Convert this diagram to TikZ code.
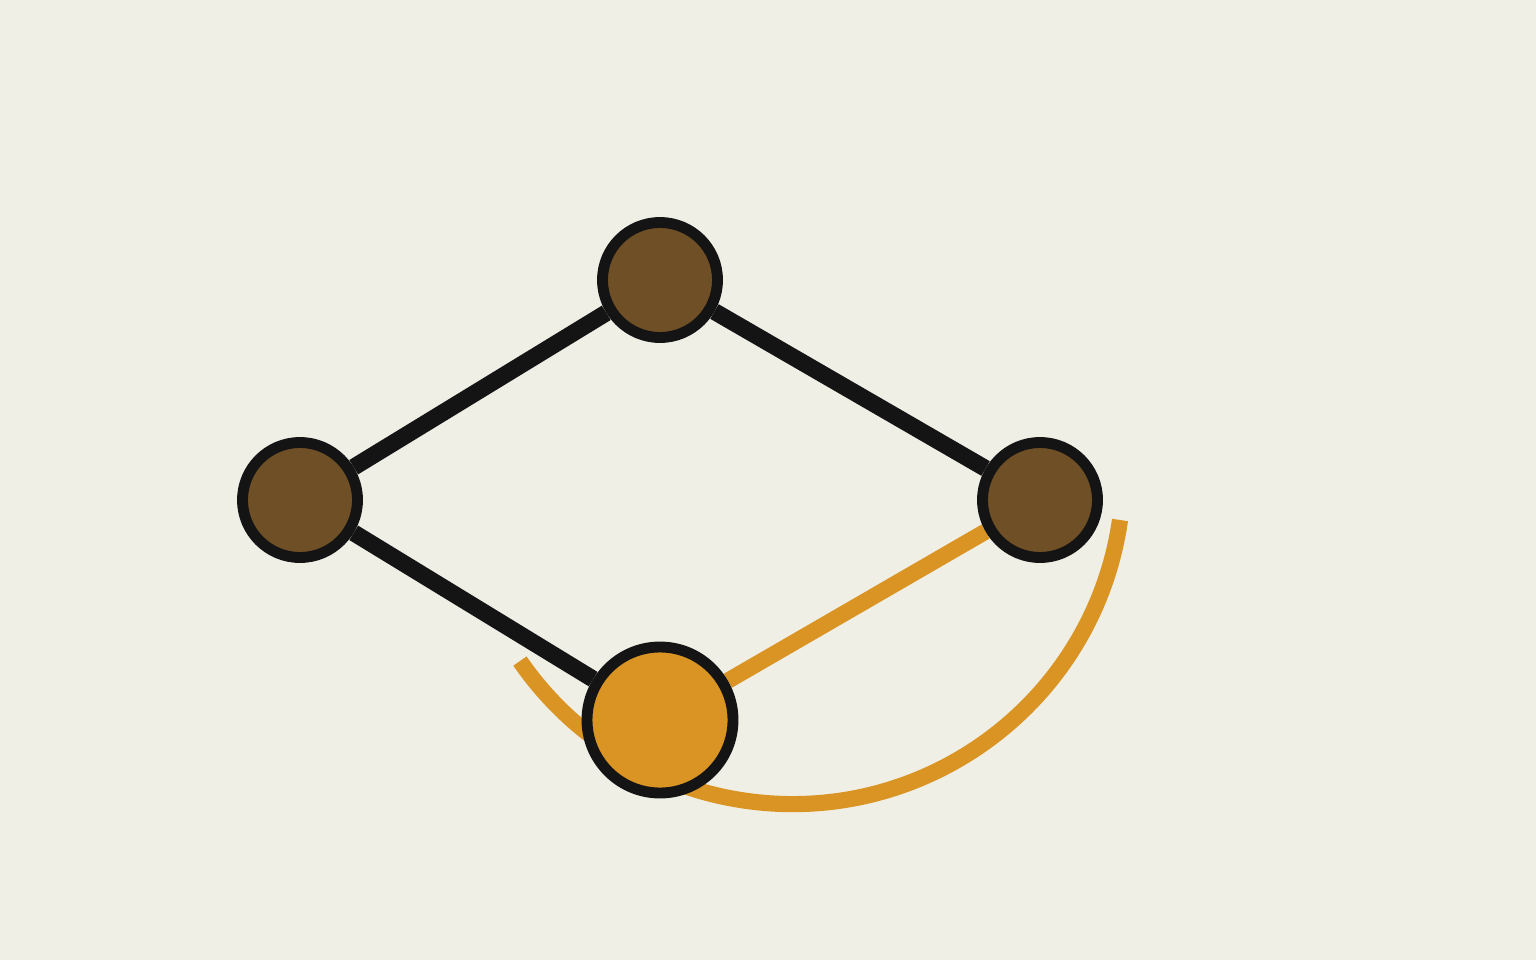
\documentclass[tikz,border=0pt]{standalone}
\usepackage{xcolor}
\usepackage{tikz}
\usetikzlibrary{positioning}
\definecolor{paper}{HTML}{F0EFE6}
\definecolor{bark}{HTML}{6F4F25}
\definecolor{amber}{HTML}{D99424}
\definecolor{ink}{HTML}{141414}
\pgfdeclarelayer{back}
\pgfdeclarelayer{edges}
\pgfsetlayers{back,edges,main}
\tikzstyle{bn} = [circle, minimum size=1.15cm, inner sep=0pt, draw=ink, line width=3.1pt, fill=bark]
\tikzstyle{an} = [circle, minimum size=1.46cm, inner sep=0pt, draw=ink, line width=3.1pt, fill=amber]
\tikzstyle{link} = [ink, line width=4.8pt]
\tikzstyle{alink} = [amber, line width=4.6pt]
\begin{document}
\begin{tikzpicture}[node distance=2.2cm]

\begin{pgfonlayer}{back}
\fill [paper] (0,0) rectangle (15.36,9.6);
\end{pgfonlayer}
\useasboundingbox (0,0) rectangle (15.36,9.6);

\node (top) [bn] at (6.6,6.8) {};
\node (left) [bn, below of=top, xshift=-3.6cm] {};
\node (right) [bn, below of=top, xshift=3.8cm] {};
\node (bottom) [an, below of=left, xshift=3.6cm] {};

\coordinate (arcA) at (11.2,4.4);

\begin{pgfonlayer}{edges}
\draw [link] (top) -- (left);
\draw [link] (top) -- (right);
\draw [link] (left) -- (bottom);
\draw [alink] (bottom) -- (right);
\draw [alink] (arcA) arc[start angle=-8.15, end angle=-145.4, radius=3.31];
\end{pgfonlayer}

\end{tikzpicture}
\end{document}
